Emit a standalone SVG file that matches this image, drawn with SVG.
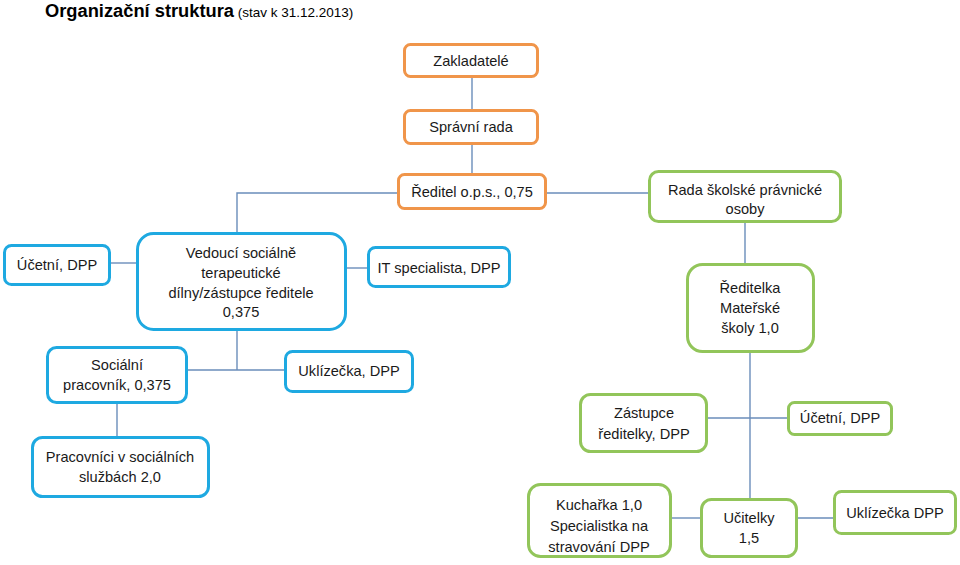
<svg xmlns="http://www.w3.org/2000/svg" width="960" height="565" viewBox="0 0 960 565">
<style>
  .bg { fill: #ffffff; }
  .box { fill: #ffffff; stroke-width: 3; }
  .o { stroke: #F0954A; }
  .b { stroke: #1EA9E1; }
  .g { stroke: #92C55A; }
  .t { font-family: "Liberation Sans", Arial, sans-serif; font-size: 14.6px; fill: #1a1a1a; text-anchor: middle; }
  .conn line, .conn polyline { stroke: #6A8DBA; stroke-width: 1.4; fill: none; }
  .title { font-family: "Liberation Sans", Arial, sans-serif; fill: #000; }
</style>
<rect class="bg" width="960" height="565"/>
<text class="title" x="45" y="17"><tspan font-size="18.3" font-weight="bold">Organizační struktura</tspan><tspan font-size="13.5"> (stav k 31.12.2013)</tspan></text>

<g id="connectors" class="conn">
  <line x1="472" y1="78" x2="472" y2="109"/>
  <line x1="472" y1="145" x2="472" y2="173"/>
  <polyline points="397,193 237,193 237,232"/>
  <line x1="547" y1="193" x2="648" y2="193"/>
  <line x1="111" y1="263" x2="136" y2="263"/>
  <line x1="347" y1="268" x2="367" y2="268"/>
  <line x1="237" y1="331" x2="237" y2="370"/>
  <line x1="188" y1="370" x2="284" y2="370"/>
  <line x1="117" y1="404" x2="117" y2="437"/>
  <line x1="745" y1="223" x2="745" y2="263"/>
  <line x1="750" y1="353" x2="750" y2="498"/>
  <line x1="708" y1="418" x2="787" y2="418"/>
  <line x1="672" y1="518" x2="700" y2="518"/>
  <line x1="798" y1="518" x2="833" y2="518"/>
</g>

<g id="zakladatele">
  <rect class="box o" x="404.5" y="44.5" width="133" height="32" rx="6"/>
  <text class="t" x="471" y="66">Zakladatelé</text>
</g>
<g id="spravni-rada">
  <rect class="box o" x="404.5" y="110.5" width="133" height="33" rx="6"/>
  <text class="t" x="471" y="132">Správní rada</text>
</g>
<g id="reditel">
  <rect class="box o" x="398.5" y="174.5" width="147" height="34" rx="6"/>
  <text class="t" x="472" y="197">Ředitel o.p.s., 0,75</text>
</g>
<g id="rada-skolske">
  <rect class="box g" x="649.5" y="171.5" width="191" height="50" rx="9"/>
  <text class="t" x="745" y="195">Rada školské právnické</text>
  <text class="t" x="745" y="214">osoby</text>
</g>

<g id="ucetni-left">
  <rect class="box b" x="4.5" y="245.5" width="105" height="39" rx="7"/>
  <text class="t" x="57" y="270">Účetní, DPP</text>
</g>
<g id="vedouci">
  <rect class="box b" x="137.5" y="233.5" width="208" height="96" rx="16"/>
  <text class="t" x="241" y="258">Vedoucí sociálně</text>
  <text class="t" x="241" y="278">terapeutické</text>
  <text class="t" x="241" y="298">dílny/zástupce ředitele</text>
  <text class="t" x="241" y="317">0,375</text>
</g>
<g id="it-specialista">
  <rect class="box b" x="368.5" y="247.5" width="141" height="39" rx="7"/>
  <text class="t" x="439" y="273">IT specialista, DPP</text>
</g>
<g id="socialni-pracovnik">
  <rect class="box b" x="47.5" y="347.5" width="139" height="55" rx="9"/>
  <text class="t" x="117" y="370">Sociální</text>
  <text class="t" x="117" y="390">pracovník, 0,375</text>
</g>
<g id="uklizecka-left">
  <rect class="box b" x="285.5" y="351.5" width="127" height="40" rx="7"/>
  <text class="t" x="349" y="376">Uklízečka, DPP</text>
</g>
<g id="pracovnici">
  <rect class="box b" x="32.5" y="437.5" width="176" height="59" rx="10"/>
  <text class="t" x="120" y="462">Pracovníci v sociálních</text>
  <text class="t" x="120" y="482">službách 2,0</text>
</g>

<g id="reditelka">
  <rect class="box g" x="687.5" y="264.5" width="126" height="87" rx="15"/>
  <text class="t" x="750" y="293">Ředitelka</text>
  <text class="t" x="750" y="313">Mateřské</text>
  <text class="t" x="750" y="333">školy 1,0</text>
</g>
<g id="zastupce">
  <rect class="box g" x="580.5" y="394.5" width="126" height="57" rx="10"/>
  <text class="t" x="644" y="418">Zástupce</text>
  <text class="t" x="644" y="439">ředitelky, DPP</text>
</g>
<g id="ucetni-right">
  <rect class="box g" x="788.5" y="402.5" width="103" height="32" rx="6"/>
  <text class="t" x="840" y="423">Účetní, DPP</text>
</g>
<g id="kucharka">
  <rect class="box g" x="528.5" y="484.5" width="142" height="72" rx="12"/>
  <text class="t" x="599" y="510">Kuchařka 1,0</text>
  <text class="t" x="599" y="531">Specialistka na</text>
  <text class="t" x="599" y="552">stravování DPP</text>
</g>
<g id="ucitelky">
  <rect class="box g" x="701.5" y="499.5" width="95" height="57" rx="10"/>
  <text class="t" x="749" y="523">Učitelky</text>
  <text class="t" x="749" y="543">1,5</text>
</g>
<g id="uklizecka-right">
  <rect class="box g" x="834.5" y="491.5" width="121" height="42" rx="7"/>
  <text class="t" x="895" y="518">Uklízečka DPP</text>
</g>
</svg>
